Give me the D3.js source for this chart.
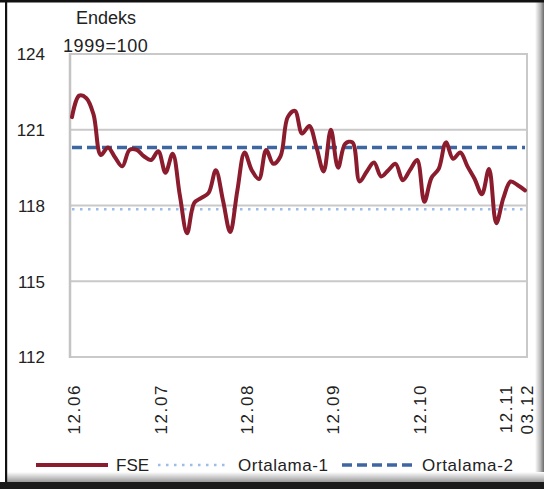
<!DOCTYPE html>
<html><head><meta charset="utf-8">
<script src="https://cdn.jsdelivr.net/npm/d3@7"></script>
<style>
html,body{margin:0;padding:0;background:#fff;}
svg{display:block;}
text{font-family:"Liberation Sans",Arial,sans-serif;fill:#222;}
</style></head>
<body>
<svg id="c" width="544" height="489"></svg>
<script>
const categories = ["12.06","01.07","02.07","03.07","04.07","05.07","06.07","07.07","08.07","09.07","10.07","11.07",
"12.07","01.08","02.08","03.08","04.08","05.08","06.08","07.08","08.08","09.08","10.08","11.08",
"12.08","01.09","02.09","03.09","04.09","05.09","06.09","07.09","08.09","09.09","10.09","11.09",
"12.09","01.10","02.10","03.10","04.10","05.10","06.10","07.10","08.10","09.10","10.10","11.10",
"12.10","01.11","02.11","03.11","04.11","05.11","06.11","07.11","08.11","09.11","10.11","11.11",
"12.11","01.12","02.12","03.12"];
const fse = [121.5,122.35,122.25,121.6,120.0,120.3,119.9,119.55,120.2,120.2,
119.95,119.8,120.15,119.3,120.05,118.4,116.9,118.1,118.3,118.5,
119.4,118.2,116.95,118.6,120.1,119.4,119.05,120.2,119.65,119.95,
121.5,121.75,120.85,121.15,120.3,119.35,121.0,119.5,120.45,120.5,
118.95,119.35,119.7,119.15,119.4,119.65,119.0,119.4,119.8,118.15,
119.1,119.45,120.5,119.85,120.1,119.55,119.05,118.45,119.45,117.3,
118.3,118.95,118.8,118.6];
const ortalama1 = 117.85;
const ortalama2 = 120.3;
const yTicks = [112,115,118,121,124];
const xTickLabels = ["12.06","12.07","12.08","12.09","12.10","12.11","03.12"];
const seriesNames = ["FSE","Ortalama-1","Ortalama-2"];

const svg = d3.select("#c");
const W = 544, H = 489;
const plot = {left:70, right:527, top:54, bottom:357};

// frame
const defs = svg.append("defs");
const gr = defs.append("linearGradient").attr("id","shR").attr("x1",0).attr("x2",1).attr("y1",0).attr("y2",0);
gr.append("stop").attr("offset","0%").attr("stop-color","#ffffff");
gr.append("stop").attr("offset","60%").attr("stop-color","#b8b8b8");
gr.append("stop").attr("offset","100%").attr("stop-color","#6a6a6a");
const gb = defs.append("linearGradient").attr("id","shB").attr("x1",0).attr("x2",0).attr("y1",0).attr("y2",1);
gb.append("stop").attr("offset","0%").attr("stop-color","#ffffff");
gb.append("stop").attr("offset","100%").attr("stop-color","#9a9a9a");
svg.append("rect").attr("x",535).attr("y",2).attr("width",9).attr("height",480).attr("fill","url(#shR)");
svg.append("rect").attr("x",6).attr("y",472).attr("width",538).attr("height",10).attr("fill","url(#shB)");
svg.append("rect").attr("x",0).attr("y",0).attr("width",W).attr("height",2.5).attr("fill","#111");
svg.append("rect").attr("x",5).attr("y",0).attr("width",2.2).attr("height",H).attr("fill","#111");
svg.append("rect").attr("x",0).attr("y",482).attr("width",W).attr("height",7).attr("fill","#1a1a1a");

const x = d3.scalePoint().domain(categories).range([72, 525]);
const y = d3.scaleLinear().domain([112,124]).range([plot.bottom, plot.top]);

// gridlines
svg.append("g").selectAll("line").data(yTicks).join("line")
  .attr("x1",plot.left).attr("x2",plot.right)
  .attr("y1",d=>y(d)).attr("y2",d=>y(d))
  .attr("stroke","#c9c9c9").attr("stroke-width",2);
svg.append("line").attr("x1",plot.left).attr("x2",plot.left).attr("y1",plot.top-1).attr("y2",plot.bottom+1)
  .attr("stroke","#c4c4c4").attr("stroke-width",2.5);
svg.append("line").attr("x1",plot.right).attr("x2",plot.right).attr("y1",plot.top-1).attr("y2",plot.bottom+1)
  .attr("stroke","#c9c9c9").attr("stroke-width",2);

// y axis labels
const yAxis = d3.axisLeft(y).tickValues(yTicks).tickSize(0).tickPadding(0);
const ya = svg.append("g").attr("transform","translate(45,0)").call(yAxis);
ya.select(".domain").remove();
ya.selectAll("text").attr("font-size",17).attr("fill","#222").attr("font-family","Liberation Sans, Arial, sans-serif").attr("dy","0.34em");

// x axis labels
const tickIdx = xTickLabels.map((l,i)=> i===xTickLabels.length-1 ? categories.length-1 : categories.indexOf(l));
const xAxis = d3.axisBottom(x).tickValues(tickIdx.map(i=>categories[i])).tickSize(0).tickFormat(d=>d);
const xa = svg.append("g").attr("transform",`translate(0,${plot.bottom})`).call(xAxis);
xa.select(".domain").remove();
xa.selectAll(".tick text")
  .attr("font-size",17).attr("fill","#222").attr("letter-spacing","1.6px")
  .attr("font-family","Liberation Sans, Arial, sans-serif")
  .attr("text-anchor","end").attr("y",0).attr("dy","0.35em")
  .attr("transform","translate(2,27) rotate(-90)");

// average lines
svg.append("line").attr("x1",72).attr("x2",525).attr("y1",y(ortalama1)).attr("y2",y(ortalama1))
  .attr("stroke","#9dbde6").attr("stroke-width",2.6).attr("stroke-dasharray","2.5,5.5");
svg.append("line").attr("x1",72).attr("x2",525).attr("y1",y(ortalama2)).attr("y2",y(ortalama2))
  .attr("stroke","#3e67a1").attr("stroke-width",3.6).attr("stroke-dasharray","10,5");

// FSE line
const line = d3.line().x((d,i)=>x(categories[i])).y(d=>y(d)).curve(d3.curveCatmullRom.alpha(0.5));
svg.append("path").datum(fse).attr("d",line).attr("fill","none")
  .attr("stroke","#8a1c2d").attr("stroke-width",4).attr("stroke-linejoin","round").attr("stroke-linecap","round");

// titles
svg.append("text").attr("x",76).attr("y",24).attr("font-size",18).text("Endeks");
svg.append("text").attr("x",63).attr("y",52).attr("font-size",18).attr("letter-spacing","0.6px").text("1999=100");

// legend
const ly = 465;
const leg = svg.append("g");
leg.append("line").attr("x1",36).attr("x2",108).attr("y1",ly).attr("y2",ly).attr("stroke","#8a1c2d").attr("stroke-width",4);
leg.append("text").attr("x",116).attr("y",ly).attr("dy","0.36em").attr("font-size",17).text(seriesNames[0]);
leg.append("line").attr("x1",158).attr("x2",228).attr("y1",ly).attr("y2",ly).attr("stroke","#9dbde6").attr("stroke-width",2.6).attr("stroke-dasharray","2.5,5.5");
leg.append("text").attr("x",238).attr("y",ly).attr("dy","0.36em").attr("font-size",17).attr("textLength",90).text(seriesNames[1]);
leg.append("line").attr("x1",342).attr("x2",414).attr("y1",ly).attr("y2",ly).attr("stroke","#3e67a1").attr("stroke-width",3.6).attr("stroke-dasharray","10,5");
leg.append("text").attr("x",422).attr("y",ly).attr("dy","0.36em").attr("font-size",17).attr("textLength",91).text(seriesNames[2]);
</script>
</body></html>
